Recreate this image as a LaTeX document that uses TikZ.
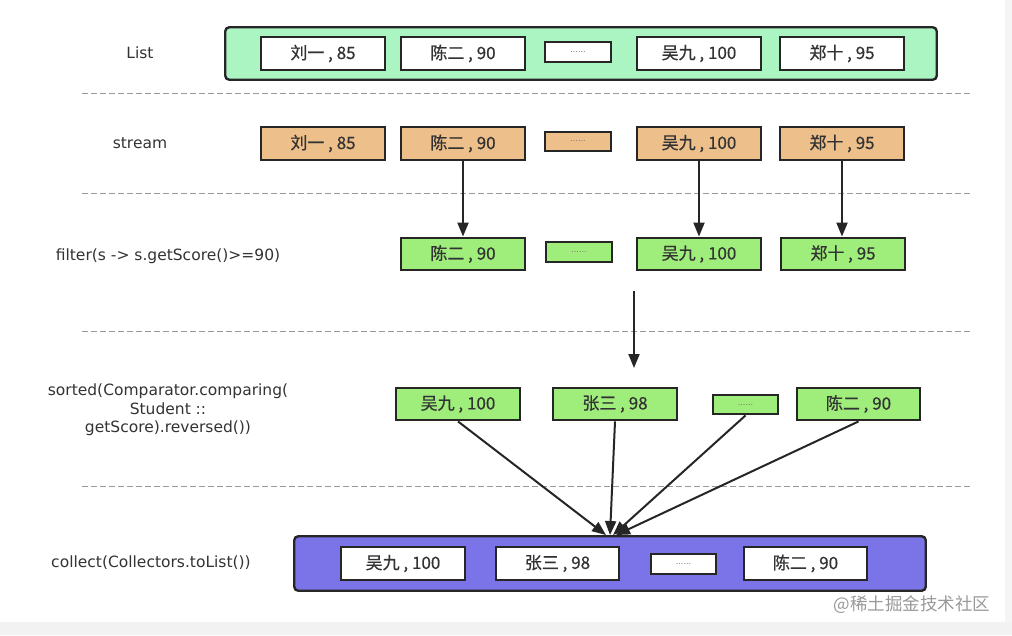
\documentclass[tikz,border=0pt]{standalone}
\usepackage{fontspec}
\setmainfont{DejaVu Sans}
\newfontfamily\cjk[FakeBold=0.6]{Noto Sans CJK SC}
\newfontfamily\cjkwm{Noto Sans CJK SC}
\usetikzlibrary{arrows.meta}
\definecolor{listgreen}{HTML}{AAF5C2}
\definecolor{streamorange}{HTML}{ECBF8B}
\definecolor{filtergreen}{HTML}{9FEE7C}
\definecolor{collectblue}{HTML}{7B74E8}
\definecolor{edgedark}{HTML}{262626}
\definecolor{txt}{HTML}{333333}
\tikzset{
  item/.style={draw=edgedark, line width=2.4pt, minimum width=123.5pt, minimum height=32.5pt,
    inner sep=0pt, text=txt, font=\cjk\fontsize{17}{17}\selectfont},
  dotbox/.style={draw=edgedark, line width=2.4pt, minimum width=65.5pt, minimum height=19.5pt,
    inner sep=0pt, text=black!55, font=\fontsize{8}{8}\selectfont},
  container/.style={draw=edgedark, line width=2.4pt, rounded corners=4pt, inner sep=0pt},
  rowlabel/.style={text=txt, font=\fontsize{15.5}{18.5}\selectfont, align=center},
  sep/.style={draw=black!40, line width=1pt, dash pattern=on 6pt off 3pt},
  flow/.style={draw=edgedark, line width=2pt, -{Triangle[length=14pt,width=11pt]}},
}
\begin{document}
\begin{tikzpicture}[x=1pt,y=-1pt]
\useasboundingbox (0,0) rectangle (1012,635);
\fill[white] (0,0) rectangle (1012,635);
\fill[black!5] (0,622) rectangle (1012,635);
\fill[black!4] (1005,0) rectangle (1012,622);

% separators
\draw[sep] (82,93) -- (973,93);
\draw[sep] (82,193) -- (973,193);
\draw[sep] (82,331) -- (973,331);
\draw[sep] (82,486) -- (973,486);

% row labels
\node[rowlabel] (lblList) at (140,53) {List};
\node[rowlabel] (lblStream) at (140,143) {stream};
\node[rowlabel] (lblFilter) at (168,256) {filter(s -> s.getScore()>=90)};
\node[rowlabel] (lblSorted) at (168,410) {sorted(Comparator.comparing(\\Student ::\\getScore).reversed())};
\node[rowlabel] (lblCollect) at (151,563) {collect(Collectors.toList())};

% List row
\node[container, fill=listgreen, minimum width=711.5pt, minimum height=52.5pt] (list) at (581,53.5) {};
\node[item, fill=white] (l1) at (323,53.5) {刘一 , 85};
\node[item, fill=white] (l2) at (463,53.5) {陈二 , 90};
\node[dotbox, fill=white] (l3) at (578,52) {......};
\node[item, fill=white] (l4) at (699,53.5) {吴九 , 100};
\node[item, fill=white] (l5) at (842,53.5) {郑十 , 95};

% stream row
\node[item, fill=streamorange] (s1) at (323,143.5) {刘一 , 85};
\node[item, fill=streamorange] (s2) at (463,143.5) {陈二 , 90};
\node[dotbox, fill=streamorange] (s3) at (578,141.5) {......};
\node[item, fill=streamorange] (s4) at (699,143.5) {吴九 , 100};
\node[item, fill=streamorange] (s5) at (842,143.5) {郑十 , 95};

% filter row
\node[item, fill=filtergreen] (f2) at (463,254) {陈二 , 90};
\node[dotbox, fill=filtergreen] (f3) at (579,252) {......};
\node[item, fill=filtergreen] (f4) at (699,254) {吴九 , 100};
\node[item, fill=filtergreen] (f5) at (843,254) {郑十 , 95};

\draw[flow] (s2.south) -- (f2.north);
\draw[flow] (s4.south) -- (f4.north);
\draw[flow] (s5.south) -- (f5.north -| s5.south);

% sort arrow
\coordinate (sortTop) at (634,291);
\coordinate (sortBot) at (634,368);
\draw[flow] (sortTop) -- (sortBot);

% sorted row
\node[item, fill=filtergreen] (o1) at (458,404) {吴九 , 100};
\node[item, fill=filtergreen] (o2) at (615,404) {张三 , 98};
\node[dotbox, fill=filtergreen] (o3) at (745.5,404.5) {......};
\node[item, fill=filtergreen] (o4) at (858.5,404) {陈二 , 90};

% collect row
\node[container, fill=collectblue, minimum width=631.5pt, minimum height=54.5pt] (collect) at (610,563.5) {};
\node[item, fill=white] (c1) at (403,563.5) {吴九 , 100};
\node[item, fill=white] (c2) at (557.5,563.5) {张三 , 98};
\node[dotbox, fill=white] (c3) at (683.5,564) {......};
\node[item, fill=white] (c4) at (805.5,563.5) {陈二 , 90};

\draw[flow] (o1.south) -- ([xshift=-4pt]collect.north);
\draw[flow] (o2.south) -- ([xshift=0pt]collect.north);
\draw[flow] (o3.south) -- ([xshift=3pt]collect.north);
\draw[flow] (o4.south) -- ([xshift=6pt]collect.north);

% watermark
\node[text=black!40, font=\cjkwm\fontsize{17.5}{17.5}\selectfont] (wm) at (912,605) {@稀土掘金技术社区};
\end{tikzpicture}
\end{document}
